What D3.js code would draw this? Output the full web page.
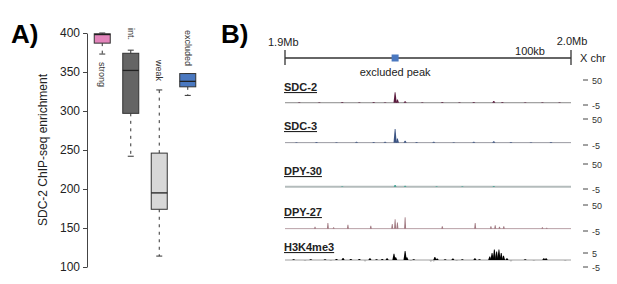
<!DOCTYPE html>
<html>
<head>
<meta charset="utf-8">
<script src="https://cdn.jsdelivr.net/npm/d3@7"></script>
<style>
  body { margin: 0; background: #fff; }
  svg { font-family: "Liberation Sans", Arial, sans-serif; }
</style>
</head>
<body>
<svg id="chart" width="617" height="284"></svg>
<script>
// ---- panel A data (box plot) ----
const boxCats = ["strong", "int.", "weak", "excluded"];
const boxLow = [373, 242, 114, 320];
const boxQ1 = [387, 297, 174, 331];
const boxMedian = [398, 352, 195, 338];
const boxQ3 = [399, 374, 246, 348];
const boxHigh = [400, 378, 327, 348];
const boxColors = ["#e384bb", "#656565", "#d8d8d8", "#4a78c0"];
const yTicks = [100, 150, 200, 250, 300, 350, 400];

// ---- panel B data (genome tracks), positions in kb ----
const regionKb = [1900, 2000];
const excludedPeakKb = 1938.5;
const trackNames = ["SDC-2", "SDC-3", "DPY-30", "DPY-27", "H3K4me3"];
const trackMin = [-5, -5, -5, -5, -5];
const trackMax = [50, 50, 50, 50, 5];
const sdc2Signal = [[1905, 1], [1912, 1], [1920, 1.5], [1926, 1], [1931, 1.5], [1935, 1],
  [1938.5, 23], [1939.3, 7], [1942, 3], [1948, 1], [1955, 1.5], [1961, 1], [1966, 1.5],
  [1973, 4], [1976, 1.5], [1984, 1], [1990, 1], [1996, 1]];
const sdc3Signal = [[1904, 1], [1911, 1.5], [1918, 1], [1925, 2], [1931, 1.5], [1935, 2],
  [1938.5, 29], [1939.3, 9], [1942, 4], [1946, 1.5], [1952, 2], [1959, 1], [1966, 2],
  [1973, 3], [1979, 1.5], [1986, 1], [1993, 1.5]];
const dpy30Signal = [[1920, 1], [1938.5, 4], [1942, 2], [1953, 1], [1962, 1], [1973, 1.5]];
const dpy27Signal = [[1910.5, 4], [1915, 12], [1917, 3], [1922, 8], [1930, 6], [1937.5, 10],
  [1938.5, 20], [1939.3, 13], [1942, 24], [1955, 5], [1966.5, 12], [1972, 5], [1973.5, 7],
  [1975, 4], [1976.5, 5], [1990, 3], [1991.5, 2]];
const h3k4me3Signal = [[1903, 0.5], [1909, 0.5], [1914, 0.6], [1918, 0.8], [1920.3, 1.5],
  [1923, 0.8], [1926, 0.7], [1929.7, 1.2], [1932, 0.6], [1934, 0.8], [1935.7, 1.3],
  [1938.1, 4.5], [1938.7, 2], [1942, 6.5], [1942.6, 2], [1945, 0.6], [1952.4, 2.2],
  [1953.2, 1], [1956, 0.6], [1958.7, 1], [1962, 0.5], [1966.4, 1.2], [1968, 0.6],
  [1971.6, 2.5], [1972.4, 5], [1973.2, 7.5], [1974, 6], [1974.8, 7.5], [1975.6, 5],
  [1976.4, 3], [1977.6, 1.2], [1984, 0.6], [1990.5, 1.3], [1991.3, 1.3],
  [1907, -0.8], [1916, -0.8], [1928, -1], [1944, -0.8], [1951, -1.2], [1952, -1],
  [1960, -0.8], [1979, -1], [1987, -0.8], [1998, -0.8]];
const trackSignals = [sdc2Signal, sdc3Signal, dpy30Signal, dpy27Signal, h3k4me3Signal];

// ---- layout ----
const svg = d3.select("#chart");
const trackTop = [80, 119, 164, 205, 253];
const trackBottom = [105, 145, 189, 231, 267];
const trackColors = ["#5a1a3c", "#3b5382", "#2e9c8c", "#a07880", "#000000"];
const baseColors = ["#8a8a8a", "#9a9aa2", "#b4bcbc", "#b8a0a6", "#a0a0a0"];
const peakHalfW = [1.6, 1.6, 1.4, 1.0, 1.6];

// ================= Panel A =================
svg.append("text").attr("x", 11).attr("y", 43)
  .attr("font-size", 26).attr("font-weight", "bold").text("A)");

let yScale = d3.scaleLinear().domain([100, 400]).range([267, 33]);
let xBand = d3.scaleBand().domain(boxCats).range([88, 202]);

let yAxis = svg.append("g")
  .attr("transform", "translate(87,0)")
  .call(d3.axisLeft(yScale).tickValues(yTicks).tickSize(4).tickSizeOuter(0));
yAxis.selectAll("text").attr("font-size", 12).attr("fill", "#222")
  .attr("font-family", "Liberation Sans, Arial, sans-serif");
yAxis.selectAll("line, path").attr("stroke", "#444");

svg.append("text")
  .attr("transform", "translate(47,150) rotate(-90)")
  .attr("text-anchor", "middle").attr("font-size", 12).attr("fill", "#222")
  .text("SDC-2 ChIP-seq enrichment");

let boxW = 16;
boxCats.forEach((c, i) => {
  let cx = xBand(c) + xBand.bandwidth() / 2;
  let g = svg.append("g");
  // whiskers
  g.append("line").attr("x1", cx).attr("x2", cx)
    .attr("y1", yScale(boxQ1[i])).attr("y2", yScale(boxLow[i]))
    .attr("stroke", "#333").attr("stroke-dasharray", "3,4.5");
  g.append("line").attr("x1", cx).attr("x2", cx)
    .attr("y1", yScale(boxQ3[i])).attr("y2", yScale(boxHigh[i]))
    .attr("stroke", "#333").attr("stroke-dasharray", "3,4.5");
  [boxLow[i], boxHigh[i]].forEach(v => {
    g.append("line").attr("x1", cx - 3).attr("x2", cx + 3)
      .attr("y1", yScale(v)).attr("y2", yScale(v)).attr("stroke", "#333");
  });
  g.append("rect")
    .attr("x", cx - boxW / 2).attr("y", yScale(boxQ3[i]))
    .attr("width", boxW).attr("height", yScale(boxQ1[i]) - yScale(boxQ3[i]))
    .attr("fill", boxColors[i]).attr("stroke", "#333").attr("stroke-width", 1);
  g.append("line").attr("x1", cx - boxW / 2).attr("x2", cx + boxW / 2)
    .attr("y1", yScale(boxMedian[i])).attr("y2", yScale(boxMedian[i]))
    .attr("stroke", "#222").attr("stroke-width", 1.3);
});

// category labels, rotated to read top to bottom
const labelTop = [62, 28, 60, 30];
boxCats.forEach((c, i) => {
  let cx = xBand(c) + xBand.bandwidth() / 2;
  svg.append("text")
    .attr("transform", "translate(" + (cx - 3) + "," + labelTop[i] + ") rotate(90)")
    .attr("font-size", 9).attr("fill", "#333").text(c);
});

// ================= Panel B =================
svg.append("text").attr("x", 221).attr("y", 43)
  .attr("font-size", 26).attr("font-weight", "bold").text("B)");

let xGen = d3.scaleLinear().domain(regionKb).range([285, 571]);

// scale bar
let scaleY = 58;
svg.append("line").attr("x1", xGen(regionKb[0])).attr("x2", xGen(regionKb[1]))
  .attr("y1", scaleY).attr("y2", scaleY).attr("stroke", "#333").attr("stroke-width", 1.3);
regionKb.forEach(k => {
  svg.append("line").attr("x1", xGen(k)).attr("x2", xGen(k))
    .attr("y1", scaleY - 8).attr("y2", scaleY + 7).attr("stroke", "#333").attr("stroke-width", 1.3);
});
svg.append("rect").attr("x", xGen(excludedPeakKb) - 3.5).attr("y", scaleY - 3.5)
  .attr("width", 7).attr("height", 7).attr("fill", "#4a78c0");
svg.append("text").attr("x", xGen(excludedPeakKb)).attr("y", 76)
  .attr("text-anchor", "middle").attr("font-size", 11).attr("fill", "#222").text("excluded peak");
svg.append("text").attr("x", xGen(regionKb[0]) - 17).attr("y", 46)
  .attr("font-size", 11).attr("fill", "#222").text("1.9Mb");
svg.append("text").attr("x", xGen(regionKb[1]) + 1).attr("y", 45)
  .attr("text-anchor", "middle").attr("font-size", 11).attr("fill", "#222").text("2.0Mb");
svg.append("text").attr("x", xGen(regionKb[1]) - 26).attr("y", 55)
  .attr("text-anchor", "end").attr("font-size", 11).attr("fill", "#222").text("100kb");
svg.append("text").attr("x", 580).attr("y", 62)
  .attr("font-size", 11).attr("fill", "#222").text("X chr");

// tracks
trackNames.forEach((name, t) => {
  let ty = d3.scaleLinear().domain([trackMin[t], trackMax[t]])
    .range([trackBottom[t], trackTop[t]]);
  let g = svg.append("g");

  g.append("text").attr("x", 284).attr("y", t == 4 ? 251 : ty(trackMax[t]) + 11)
    .attr("font-size", 11).attr("font-weight", "bold").attr("fill", "#222")
    .attr("text-decoration", "underline").text(name);

  g.append("line").attr("x1", xGen(regionKb[0])).attr("x2", xGen(regionKb[1]))
    .attr("y1", ty(0)).attr("y2", ty(0))
    .attr("stroke", baseColors[t]).attr("stroke-width", t == 2 ? 2 : 1);

  let hw = peakHalfW[t];
  g.selectAll("path.peak").data(trackSignals[t]).enter().append("path")
    .attr("class", "peak")
    .attr("d", d => {
      let x = xGen(d[0]);
      let y0 = ty(0), y1 = ty(d[1]);
      return "M" + (x - hw) + "," + y0 + "L" + (x - 0.4) + "," + y1 + "L" + (x + 0.4) + "," + y1 +
        "L" + (x + hw) + "," + y0 + "Z";
    })
    .attr("fill", d => d[1] < 0 ? "#b0b0b0" : trackColors[t]);

  [trackMax[t], trackMin[t]].forEach(v => {
    g.append("line").attr("x1", 583).attr("x2", 588)
      .attr("y1", ty(v)).attr("y2", ty(v)).attr("stroke", "#444");
    g.append("text").attr("x", 592).attr("y", ty(v) + 3.5)
      .attr("font-size", 9).attr("fill", "#333").text(v);
  });
});
</script>
</body>
</html>
